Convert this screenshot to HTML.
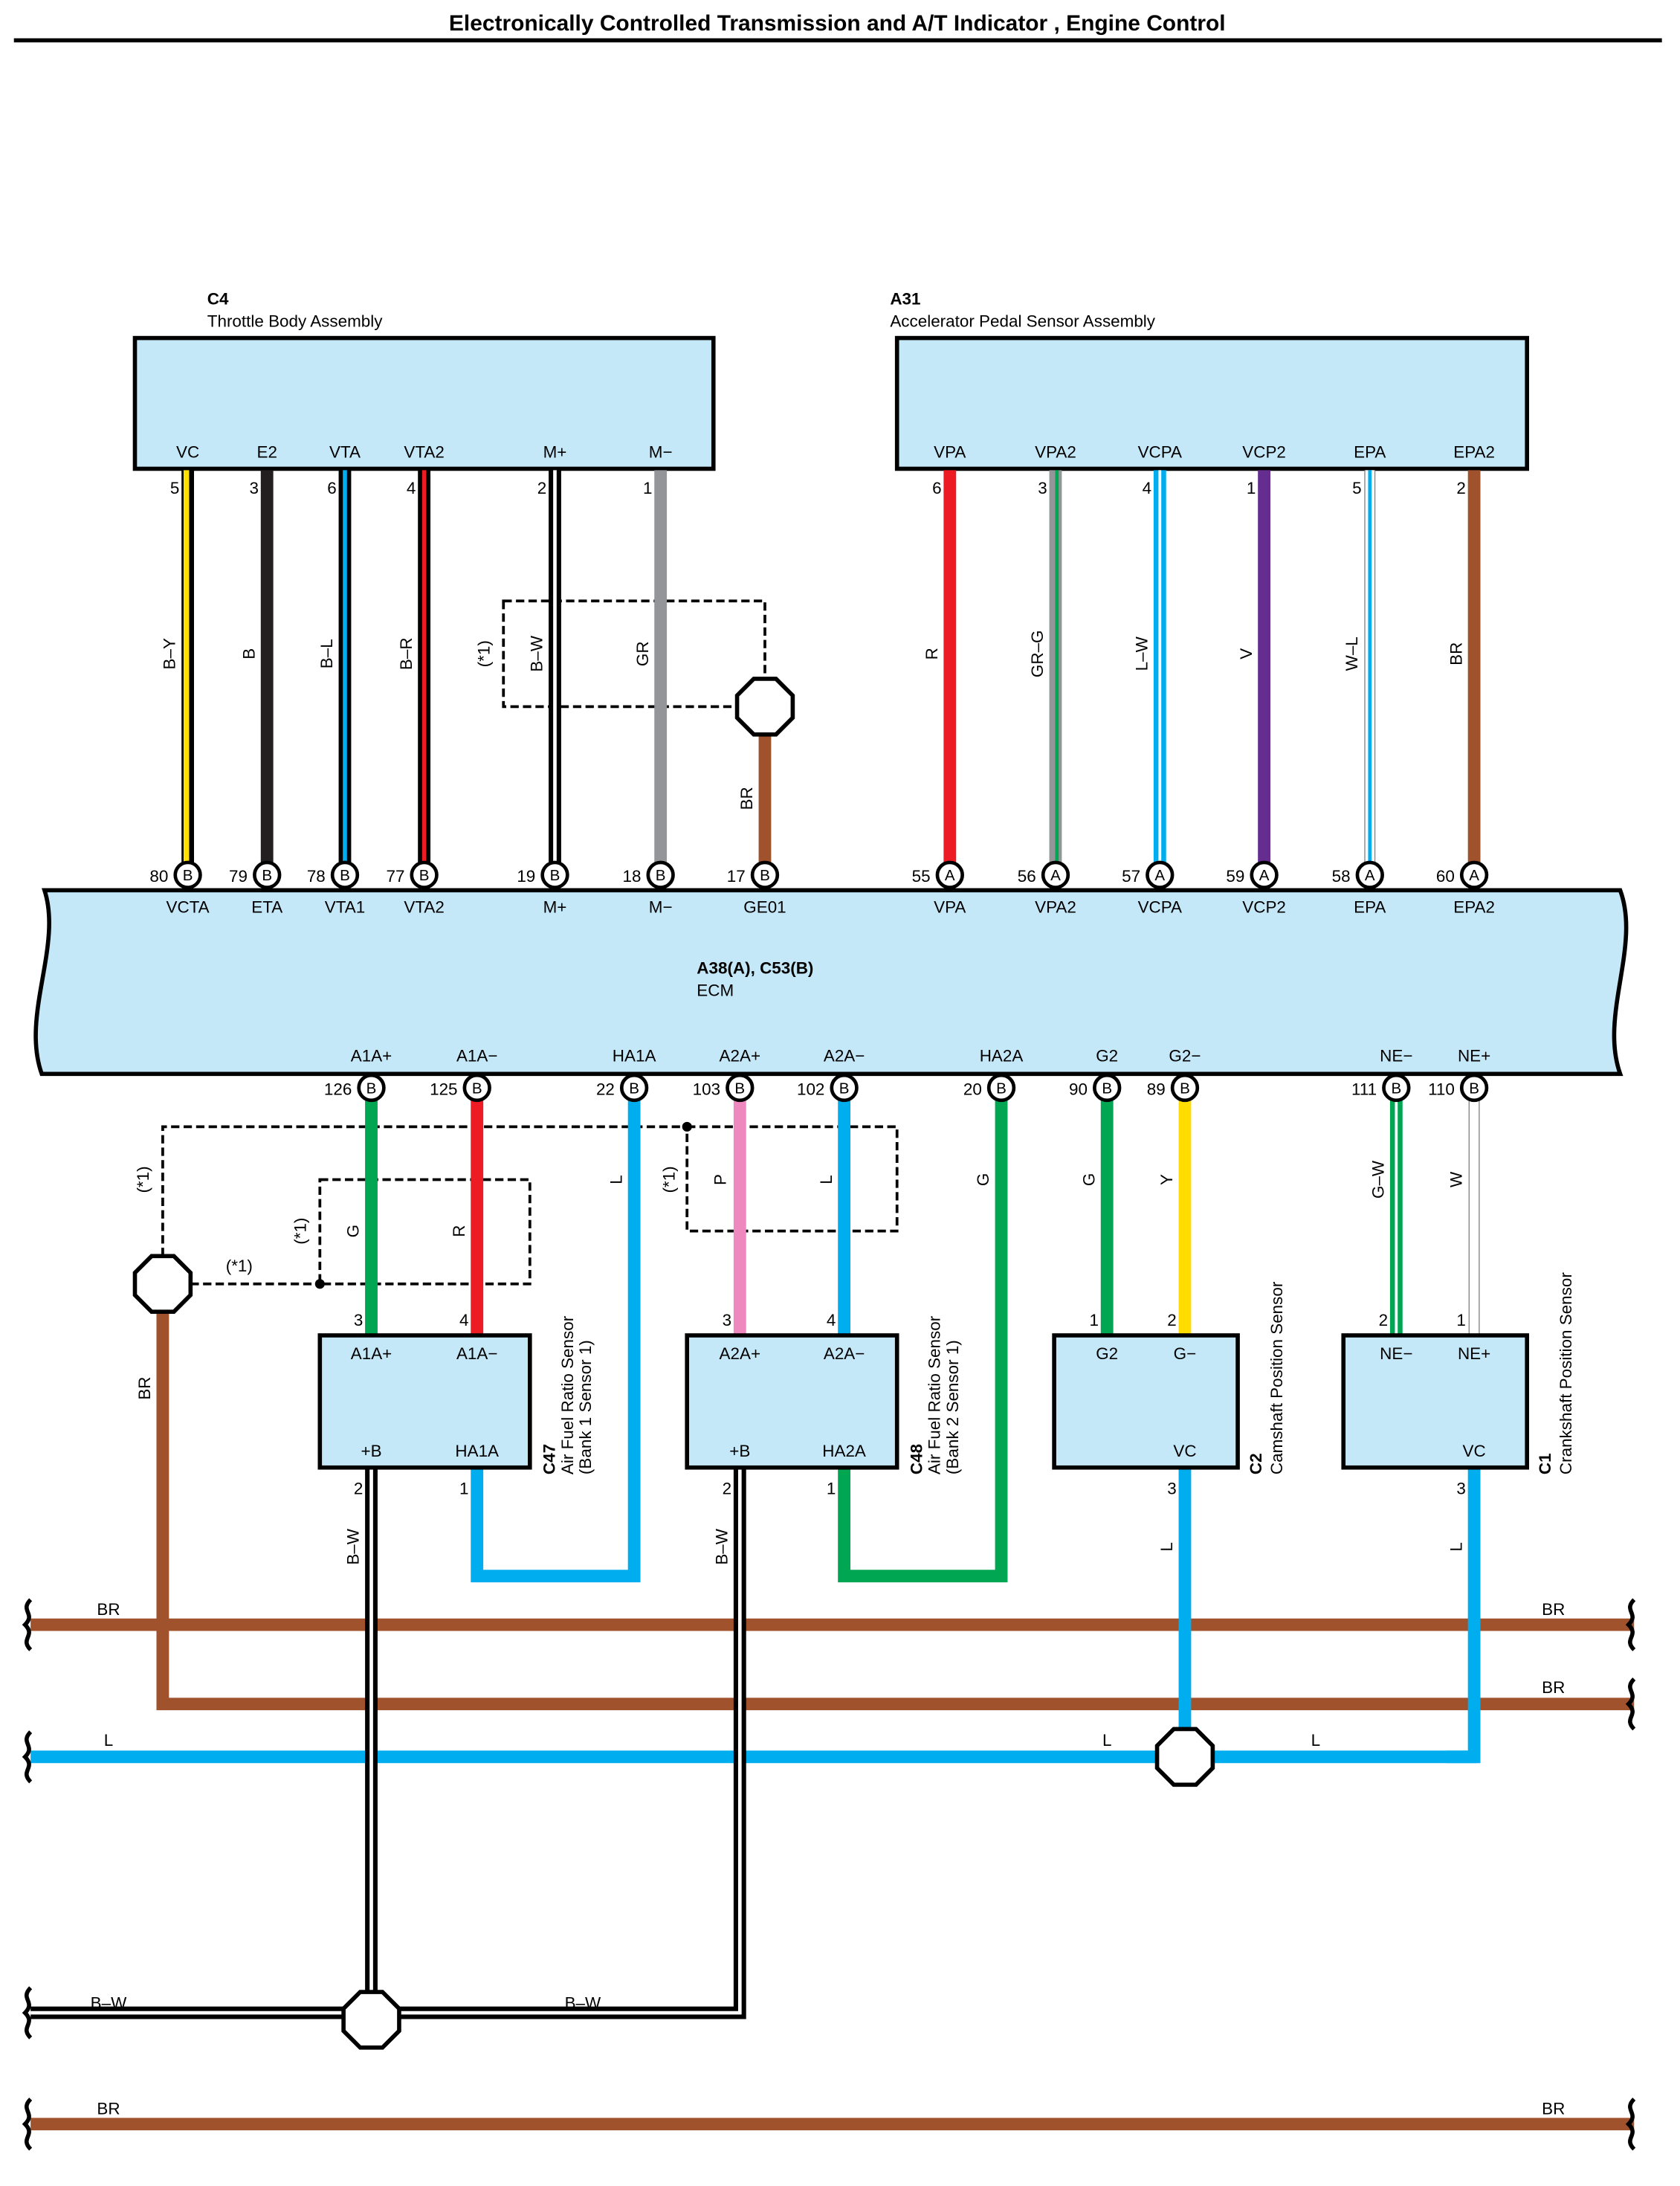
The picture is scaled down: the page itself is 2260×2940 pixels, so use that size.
<!DOCTYPE html>
<html><head><meta charset="utf-8"><style>
html,body{margin:0;padding:0;background:#fff}
svg{display:block}
text{font-family:"Liberation Sans",sans-serif;font-size:12px;fill:#000}
.b{font-weight:bold}
.c{text-anchor:middle}
.e{text-anchor:end}
</style></head><body>
<svg width="2260" height="2940" viewBox="0 0 1208 1571.5" xmlns="http://www.w3.org/2000/svg">
<text x="602" y="22" class="b c" style="font-size:16px">Electronically Controlled Transmission and A/T Indicator , Engine Control</text>
<line x1="10" y1="29" x2="1195" y2="29" stroke="#000" stroke-width="3"/>

<!-- C4 box -->
<text x="149" y="219" class="b">C4</text>
<text x="149" y="235">Throttle Body Assembly</text>
<rect x="97" y="243" width="416" height="94" fill="#c5e8f9" stroke="#000" stroke-width="3"/>
<text x="640" y="219" class="b">A31</text>
<text x="640" y="235">Accelerator Pedal Sensor Assembly</text>
<rect x="645" y="243" width="453" height="94" fill="#c5e8f9" stroke="#000" stroke-width="3"/>
<g class="c">
<text x="135" y="329" class="c">VC</text><text x="192" y="329" class="c">E2</text><text x="248" y="329" class="c">VTA</text><text x="305" y="329" class="c">VTA2</text><text x="399" y="329" class="c">M+</text><text x="475" y="329" class="c">M−</text>
<text x="683" y="329" class="c">VPA</text><text x="759" y="329" class="c">VPA2</text><text x="834" y="329" class="c">VCPA</text><text x="909" y="329" class="c">VCP2</text><text x="985" y="329" class="c">EPA</text><text x="1060" y="329" class="c">EPA2</text>
</g>

<!-- dashed box top -->
<rect x="362" y="432" width="188" height="76" fill="none" stroke="#000" stroke-width="2" stroke-dasharray="6,3"/>

<!-- top wires -->
<line x1="135" y1="338" x2="135" y2="621" stroke="#000" stroke-width="9"/><line x1="134" y1="338" x2="134" y2="621" stroke="#ffe000" stroke-width="4"/>
<line x1="192" y1="338" x2="192" y2="621" stroke="#231f20" stroke-width="9"/>
<line x1="248" y1="338" x2="248" y2="621" stroke="#000" stroke-width="9"/><line x1="248" y1="338" x2="248" y2="621" stroke="#00aeef" stroke-width="3"/>
<line x1="305" y1="338" x2="305" y2="621" stroke="#000" stroke-width="9"/><line x1="305" y1="338" x2="305" y2="621" stroke="#ed1c24" stroke-width="3"/>
<line x1="399" y1="338" x2="399" y2="621" stroke="#000" stroke-width="9"/><line x1="399" y1="338" x2="399" y2="621" stroke="#fff" stroke-width="2.5"/>
<line x1="475" y1="338" x2="475" y2="621" stroke="#939598" stroke-width="9"/>
<line x1="550" y1="525" x2="550" y2="621" stroke="#a0522d" stroke-width="9"/>
<polygon points="542,488 558,488 570,500 570,516 558,528 542,528 530,516 530,500" fill="#fff" stroke="#000" stroke-width="3"/>
<line x1="683" y1="338" x2="683" y2="621" stroke="#ed1c24" stroke-width="9"/>
<line x1="759" y1="338" x2="759" y2="621" stroke="#939598" stroke-width="9"/><line x1="760" y1="338" x2="760" y2="621" stroke="#00a651" stroke-width="2.5"/>
<line x1="834" y1="338" x2="834" y2="621" stroke="#00aeef" stroke-width="9"/><line x1="834" y1="338" x2="834" y2="621" stroke="#fff" stroke-width="2"/>
<line x1="909" y1="338" x2="909" y2="621" stroke="#662d91" stroke-width="9"/>
<line x1="985" y1="338" x2="985" y2="621" stroke="#888" stroke-width="8"/><line x1="985" y1="338" x2="985" y2="621" stroke="#fff" stroke-width="6.5"/><line x1="985" y1="338" x2="985" y2="621" stroke="#00aeef" stroke-width="2.5"/>
<line x1="1060" y1="338" x2="1060" y2="621" stroke="#a0522d" stroke-width="9"/>

<!-- top pin numbers -->
<g class="e">
<text x="129" y="355" class="e">5</text><text x="186" y="355" class="e">3</text><text x="242" y="355" class="e">6</text><text x="299" y="355" class="e">4</text><text x="393" y="355" class="e">2</text><text x="469" y="355" class="e">1</text>
<text x="677" y="355" class="e">6</text><text x="753" y="355" class="e">3</text><text x="828" y="355" class="e">4</text><text x="903" y="355" class="e">1</text><text x="979" y="355" class="e">5</text><text x="1054" y="355" class="e">2</text>
</g>
<!-- top wire labels -->
<g>
<text transform="translate(126,470) rotate(-90)" class="c">B–Y</text>
<text transform="translate(183,470) rotate(-90)" class="c">B</text>
<text transform="translate(239,470) rotate(-90)" class="c">B–L</text>
<text transform="translate(296,470) rotate(-90)" class="c">B–R</text>
<text transform="translate(352,470) rotate(-90)" class="c">(*1)</text>
<text transform="translate(390,470) rotate(-90)" class="c">B–W</text>
<text transform="translate(466,470) rotate(-90)" class="c">GR</text>
<text transform="translate(541,574) rotate(-90)" class="c">BR</text>
<text transform="translate(674,470) rotate(-90)" class="c">R</text>
<text transform="translate(750,470) rotate(-90)" class="c">GR–G</text>
<text transform="translate(825,470) rotate(-90)" class="c">L–W</text>
<text transform="translate(900,470) rotate(-90)" class="c">V</text>
<text transform="translate(976,470) rotate(-90)" class="c">W–L</text>
<text transform="translate(1051,470) rotate(-90)" class="c">BR</text>
</g>

<!-- ECM -->
<path d="M32,640 L1165,640 C1180,680 1150,730 1165,772 L30,772 C15,730 45,680 32,640 Z" fill="#c5e8f9" stroke="#000" stroke-width="3"/>
<text x="501" y="700" class="b">A38(A), C53(B)</text>
<text x="501" y="716">ECM</text>
<g>
<text x="135" y="656" class="c">VCTA</text><text x="192" y="656" class="c">ETA</text><text x="248" y="656" class="c">VTA1</text><text x="305" y="656" class="c">VTA2</text><text x="399" y="656" class="c">M+</text><text x="475" y="656" class="c">M−</text><text x="550" y="656" class="c">GE01</text>
<text x="683" y="656" class="c">VPA</text><text x="759" y="656" class="c">VPA2</text><text x="834" y="656" class="c">VCPA</text><text x="909" y="656" class="c">VCP2</text><text x="985" y="656" class="c">EPA</text><text x="1060" y="656" class="c">EPA2</text>
<text x="267" y="763" class="c">A1A+</text><text x="343" y="763" class="c">A1A−</text><text x="456" y="763" class="c">HA1A</text><text x="532" y="763" class="c">A2A+</text><text x="607" y="763" class="c">A2A−</text><text x="720" y="763" class="c">HA2A</text><text x="796" y="763" class="c">G2</text><text x="852" y="763" class="c">G2−</text><text x="1004" y="763" class="c">NE−</text><text x="1060" y="763" class="c">NE+</text>
</g>

<!-- top connector circles -->
<g stroke="#000" stroke-width="2.5" fill="#fff">
<circle cx="135" cy="629" r="9"/><circle cx="192" cy="629" r="9"/><circle cx="248" cy="629" r="9"/><circle cx="305" cy="629" r="9"/><circle cx="399" cy="629" r="9"/><circle cx="475" cy="629" r="9"/><circle cx="550" cy="629" r="9"/>
<circle cx="683" cy="629" r="9"/><circle cx="759" cy="629" r="9"/><circle cx="834" cy="629" r="9"/><circle cx="909" cy="629" r="9"/><circle cx="985" cy="629" r="9"/><circle cx="1060" cy="629" r="9"/>
</g>
<g style="font-size:11px">
<text x="135" y="633" class="c" style="font-size:11px">B</text><text x="192" y="633" class="c" style="font-size:11px">B</text><text x="248" y="633" class="c" style="font-size:11px">B</text><text x="305" y="633" class="c" style="font-size:11px">B</text><text x="399" y="633" class="c" style="font-size:11px">B</text><text x="475" y="633" class="c" style="font-size:11px">B</text><text x="550" y="633" class="c" style="font-size:11px">B</text>
<text x="683" y="633" class="c" style="font-size:11px">A</text><text x="759" y="633" class="c" style="font-size:11px">A</text><text x="834" y="633" class="c" style="font-size:11px">A</text><text x="909" y="633" class="c" style="font-size:11px">A</text><text x="985" y="633" class="c" style="font-size:11px">A</text><text x="1060" y="633" class="c" style="font-size:11px">A</text>
</g>
<g>
<text x="121" y="634" class="e">80</text><text x="178" y="634" class="e">79</text><text x="234" y="634" class="e">78</text><text x="291" y="634" class="e">77</text><text x="385" y="634" class="e">19</text><text x="461" y="634" class="e">18</text><text x="536" y="634" class="e">17</text>
<text x="669" y="634" class="e">55</text><text x="745" y="634" class="e">56</text><text x="820" y="634" class="e">57</text><text x="895" y="634" class="e">59</text><text x="971" y="634" class="e">58</text><text x="1046" y="634" class="e">60</text>
</g>

<!-- bottom dashed -->
<g fill="none" stroke="#000" stroke-width="2" stroke-dasharray="6,3">
<polyline points="117,903 117,810 493,810"/>
<rect x="494" y="810" width="151" height="75"/>
<rect x="230" y="848" width="151" height="75"/>
<line x1="137" y1="923" x2="230" y2="923"/>
</g>
<circle cx="230" cy="923" r="3.5" fill="#000"/>
<circle cx="494" cy="810" r="3.5" fill="#000"/>

<!-- bottom wires -->
<g fill="none" stroke-linejoin="miter">
<line x1="267" y1="790" x2="267" y2="960" stroke="#00a651" stroke-width="9"/>
<line x1="343" y1="790" x2="343" y2="960" stroke="#ed1c24" stroke-width="9"/>
<polyline points="456,790 456,1133 343,1133 343,1055" stroke="#00aeef" stroke-width="9"/>
<line x1="532" y1="790" x2="532" y2="960" stroke="#f088c0" stroke-width="9"/>
<line x1="607" y1="790" x2="607" y2="960" stroke="#00aeef" stroke-width="9"/>
<polyline points="720,790 720,1133 607,1133 607,1055" stroke="#00a651" stroke-width="9"/>
<line x1="796" y1="790" x2="796" y2="960" stroke="#00a651" stroke-width="9"/>
<line x1="852" y1="790" x2="852" y2="960" stroke="#ffdd00" stroke-width="9"/>
<line x1="1004" y1="790" x2="1004" y2="960" stroke="#00a651" stroke-width="9"/><line x1="1004" y1="790" x2="1004" y2="960" stroke="#fff" stroke-width="2"/>
<line x1="1060" y1="790" x2="1060" y2="960" stroke="#888" stroke-width="8"/><line x1="1060" y1="790" x2="1060" y2="960" stroke="#fff" stroke-width="6.5"/>
<!-- buses -->
<line x1="22" y1="1168" x2="1175" y2="1168" stroke="#a0522d" stroke-width="9"/>
<polyline points="117,943 117,1225 1175,1225" stroke="#a0522d" stroke-width="9"/>
<line x1="22" y1="1263" x2="1062" y2="1263" stroke="#00aeef" stroke-width="9"/>
<line x1="852" y1="1055" x2="852" y2="1245" stroke="#00aeef" stroke-width="9"/>
<polyline points="1060,1055 1060,1263 1040,1263" stroke="#00aeef" stroke-width="9"/>
<line x1="22" y1="1527" x2="1175" y2="1527" stroke="#a0522d" stroke-width="9"/>
<!-- B-W -->
<line x1="267" y1="1055" x2="267" y2="1440" stroke="#000" stroke-width="9"/><line x1="267" y1="1055" x2="267" y2="1440" stroke="#fff" stroke-width="2.5"/>
<polyline points="532,1055 532,1447 285,1447" stroke="#000" stroke-width="9"/><polyline points="532,1055 532,1447 285,1447" stroke="#fff" stroke-width="2.5"/>
<line x1="22" y1="1447" x2="250" y2="1447" stroke="#000" stroke-width="9"/><line x1="22" y1="1447" x2="250" y2="1447" stroke="#fff" stroke-width="2.5"/>
</g>
<polygon points="109,903 125,903 137,915 137,931 125,943 109,943 97,931 97,915" fill="#fff" stroke="#000" stroke-width="3"/>
<polygon points="844,1243 860,1243 872,1255 872,1271 860,1283 844,1283 832,1271 832,1255" fill="#fff" stroke="#000" stroke-width="3"/>
<polygon points="259,1432 275,1432 287,1444 287,1460 275,1472 259,1472 247,1460 247,1444" fill="#fff" stroke="#000" stroke-width="3"/>

<!-- break marks -->
<g fill="none" stroke="#000" stroke-width="3">
<path d="M22,1150 C14,1158 26,1160 18,1168 C26,1176 14,1178 22,1186"/>
<path d="M1175,1150 C1167,1158 1179,1160 1171,1168 C1179,1176 1167,1178 1175,1186"/>
<path d="M1175,1207 C1167,1215 1179,1217 1171,1225 C1179,1233 1167,1235 1175,1243"/>
<path d="M22,1245 C14,1253 26,1255 18,1263 C26,1271 14,1273 22,1281"/>
<path d="M22,1429 C14,1437 26,1439 18,1447 C26,1455 14,1457 22,1465"/>
<path d="M22,1509 C14,1517 26,1519 18,1527 C26,1535 14,1537 22,1545"/>
<path d="M1175,1509 C1167,1517 1179,1519 1171,1527 C1179,1535 1167,1537 1175,1545"/>
</g>

<!-- bottom circles -->
<g stroke="#000" stroke-width="2.5" fill="#fff">
<circle cx="267" cy="782" r="9"/><circle cx="343" cy="782" r="9"/><circle cx="456" cy="782" r="9"/><circle cx="532" cy="782" r="9"/><circle cx="607" cy="782" r="9"/><circle cx="720" cy="782" r="9"/><circle cx="796" cy="782" r="9"/><circle cx="852" cy="782" r="9"/><circle cx="1004" cy="782" r="9"/><circle cx="1060" cy="782" r="9"/>
</g>
<g>
<text x="267" y="786" class="c" style="font-size:11px">B</text><text x="343" y="786" class="c" style="font-size:11px">B</text><text x="456" y="786" class="c" style="font-size:11px">B</text><text x="532" y="786" class="c" style="font-size:11px">B</text><text x="607" y="786" class="c" style="font-size:11px">B</text><text x="720" y="786" class="c" style="font-size:11px">B</text><text x="796" y="786" class="c" style="font-size:11px">B</text><text x="852" y="786" class="c" style="font-size:11px">B</text><text x="1004" y="786" class="c" style="font-size:11px">B</text><text x="1060" y="786" class="c" style="font-size:11px">B</text>
<text x="253" y="787" class="e">126</text><text x="329" y="787" class="e">125</text><text x="442" y="787" class="e">22</text><text x="518" y="787" class="e">103</text><text x="593" y="787" class="e">102</text><text x="706" y="787" class="e">20</text><text x="782" y="787" class="e">90</text><text x="838" y="787" class="e">89</text><text x="990" y="787" class="e">111</text><text x="1046" y="787" class="e">110</text>
</g>

<!-- sensor boxes -->
<g fill="#c5e8f9" stroke="#000" stroke-width="3">
<rect x="230" y="960" width="151" height="95"/>
<rect x="494" y="960" width="151" height="95"/>
<rect x="758" y="960" width="132" height="95"/>
<rect x="966" y="960" width="132" height="95"/>
</g>
<g>
<text x="267" y="977" class="c">A1A+</text><text x="343" y="977" class="c">A1A−</text><text x="267" y="1047" class="c">+B</text><text x="343" y="1047" class="c">HA1A</text>
<text x="532" y="977" class="c">A2A+</text><text x="607" y="977" class="c">A2A−</text><text x="532" y="1047" class="c">+B</text><text x="607" y="1047" class="c">HA2A</text>
<text x="796" y="977" class="c">G2</text><text x="852" y="977" class="c">G−</text><text x="852" y="1047" class="c">VC</text>
<text x="1004" y="977" class="c">NE−</text><text x="1060" y="977" class="c">NE+</text><text x="1060" y="1047" class="c">VC</text>
<text x="261" y="953" class="e">3</text><text x="337" y="953" class="e">4</text><text x="526" y="953" class="e">3</text><text x="601" y="953" class="e">4</text><text x="790" y="953" class="e">1</text><text x="846" y="953" class="e">2</text><text x="998" y="953" class="e">2</text><text x="1054" y="953" class="e">1</text>
<text x="261" y="1074" class="e">2</text><text x="337" y="1074" class="e">1</text><text x="526" y="1074" class="e">2</text><text x="601" y="1074" class="e">1</text><text x="846" y="1074" class="e">3</text><text x="1054" y="1074" class="e">3</text>
</g>
<!-- rotated sensor names -->
<g>
<text transform="translate(399,1060) rotate(-90)" class="b">C47</text>
<text transform="translate(412,1060) rotate(-90)">Air Fuel Ratio Sensor</text>
<text transform="translate(425,1060) rotate(-90)">(Bank 1 Sensor 1)</text>
<text transform="translate(663,1060) rotate(-90)" class="b">C48</text>
<text transform="translate(676,1060) rotate(-90)">Air Fuel Ratio Sensor</text>
<text transform="translate(689,1060) rotate(-90)">(Bank 2 Sensor 1)</text>
<text transform="translate(907,1060) rotate(-90)" class="b">C2</text>
<text transform="translate(922,1060) rotate(-90)">Camshaft Position Sensor</text>
<text transform="translate(1115,1060) rotate(-90)" class="b">C1</text>
<text transform="translate(1130,1060) rotate(-90)">Crankshaft Position Sensor</text>
</g>
<!-- bottom wire labels -->
<g>
<text transform="translate(107,848) rotate(-90)" class="c">(*1)</text>
<text transform="translate(220,885) rotate(-90)" class="c">(*1)</text>
<text transform="translate(485,848) rotate(-90)" class="c">(*1)</text>
<text x="172" y="914" class="c">(*1)</text>
<text transform="translate(258,885) rotate(-90)" class="c">G</text>
<text transform="translate(334,885) rotate(-90)" class="c">R</text>
<text transform="translate(447,848) rotate(-90)" class="c">L</text>
<text transform="translate(522,848) rotate(-90)" class="c">P</text>
<text transform="translate(598,848) rotate(-90)" class="c">L</text>
<text transform="translate(711,848) rotate(-90)" class="c">G</text>
<text transform="translate(787,848) rotate(-90)" class="c">G</text>
<text transform="translate(843,848) rotate(-90)" class="c">Y</text>
<text transform="translate(995,848) rotate(-90)" class="c">G–W</text>
<text transform="translate(1051,848) rotate(-90)" class="c">W</text>
<text transform="translate(108,998) rotate(-90)" class="c">BR</text>
<text transform="translate(258,1112) rotate(-90)" class="c">B–W</text>
<text transform="translate(523,1112) rotate(-90)" class="c">B–W</text>
<text transform="translate(843,1112) rotate(-90)" class="c">L</text>
<text transform="translate(1051,1112) rotate(-90)" class="c">L</text>
<text x="78" y="1161" class="c">BR</text><text x="1117" y="1161" class="c">BR</text>
<text x="1117" y="1217" class="c">BR</text>
<text x="78" y="1255" class="c">L</text><text x="796" y="1255" class="c">L</text><text x="946" y="1255" class="c">L</text>
<text x="78" y="1444" class="c">B–W</text><text x="419" y="1444" class="c">B–W</text>
<text x="78" y="1520" class="c">BR</text><text x="1117" y="1520" class="c">BR</text>
</g>
</svg>
</body></html>
